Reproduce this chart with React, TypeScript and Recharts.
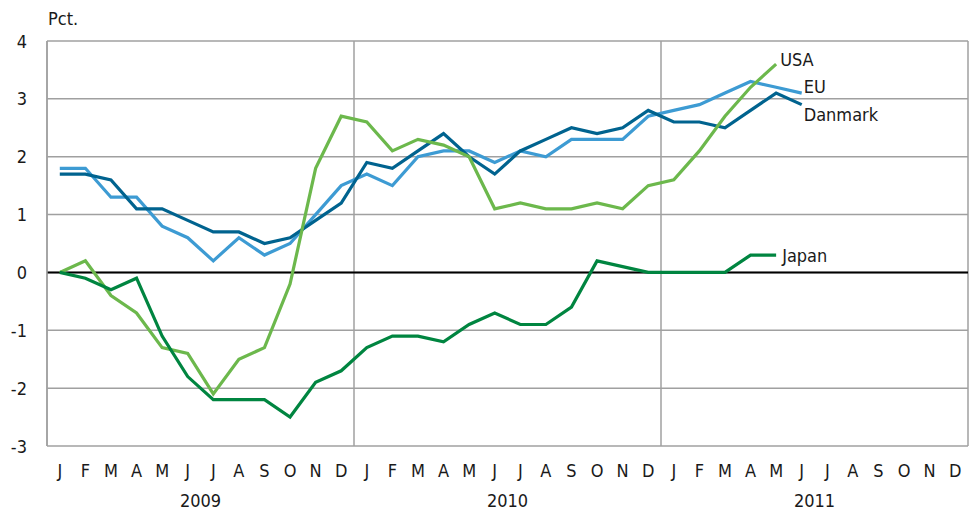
import React from 'react';
import { LineChart, Line, XAxis, YAxis, CartesianGrid, ReferenceLine } from 'recharts';

const monthLetters = ['J', 'F', 'M', 'A', 'M', 'J', 'J', 'A', 'S', 'O', 'N', 'D'];
const years = ['2009', '2010', '2011'];
const yTicks = [-3, -2, -1, 0, 1, 2, 3, 4];

const danmark = [
  1.7, 1.7, 1.6, 1.1, 1.1, 0.9, 0.7, 0.7, 0.5, 0.6, 0.9, 1.2,
  1.9, 1.8, 2.1, 2.4, 2.0, 1.7, 2.1, 2.3, 2.5, 2.4, 2.5, 2.8,
  2.6, 2.6, 2.5, 2.8, 3.1, 2.9,
];
const eu = [
  1.8, 1.8, 1.3, 1.3, 0.8, 0.6, 0.2, 0.6, 0.3, 0.5, 1.0, 1.5,
  1.7, 1.5, 2.0, 2.1, 2.1, 1.9, 2.1, 2.0, 2.3, 2.3, 2.3, 2.7,
  2.8, 2.9, 3.1, 3.3, 3.2, 3.1,
];
const usa = [
  0, 0.2, -0.4, -0.7, -1.3, -1.4, -2.1, -1.5, -1.3, -0.2, 1.8, 2.7,
  2.6, 2.1, 2.3, 2.2, 2.0, 1.1, 1.2, 1.1, 1.1, 1.2, 1.1, 1.5,
  1.6, 2.1, 2.7, 3.2, 3.6,
];
const japan = [
  0, -0.1, -0.3, -0.1, -1.1, -1.8, -2.2, -2.2, -2.2, -2.5, -1.9, -1.7,
  -1.3, -1.1, -1.1, -1.2, -0.9, -0.7, -0.9, -0.9, -0.6, 0.2, 0.1, 0,
  0, 0, 0, 0.3, 0.3,
];

const data = years.flatMap((y, yi) =>
  monthLetters.map((m, mi) => {
    const i = yi * 12 + mi;
    return {
      key: `${y}-${mi + 1}`,
      month: m,
      danmark: i < danmark.length ? danmark[i] : null,
      eu: i < eu.length ? eu[i] : null,
      usa: i < usa.length ? usa[i] : null,
      japan: i < japan.length ? japan[i] : null,
    };
  })
);

const FONT = '"DejaVu Sans Condensed", "Liberation Sans Narrow", sans-serif';
const TXT = '#1a1a1a';
const GRID = '#a0a0a0';
const FS = 18;

const MonthTick = (props: any) => {
  const { x, y, index, payload } = props;
  const half = payload && payload.offset ? payload.offset : 0;
  return (
    <g>
      <text x={x} y={y + 24} textAnchor="middle" dominantBaseline="central" fontFamily={FONT} fontSize={FS} fill={TXT}>
        {monthLetters[index % 12]}
      </text>
      {index % 12 === 5 ? (
        <text x={x + half} y={y + 54} textAnchor="middle" dominantBaseline="central" fontFamily={FONT} fontSize={FS} fill={TXT}>
          {years[Math.floor(index / 12)]}
        </text>
      ) : null}
    </g>
  );
};

const YTick = (props: any) => {
  const { x, y, payload } = props;
  return (
    <text x={x} y={y} textAnchor="end" dominantBaseline="central" fontFamily={FONT} fontSize={FS} fill={TXT}>
      {payload.value}
    </text>
  );
};

const endLabel = (name: string, lastIdx: number, dx: number, dy: number) => (props: any) => {
  const { x, y, index } = props;
  if (index !== lastIdx) return null;
  return (
    <text x={x + dx} y={y + dy} textAnchor="start" dominantBaseline="central" fontFamily={FONT} fontSize={FS} fill={TXT}>
      {name}
    </text>
  );
};

const yearBoundaries = ({ offset }: any) => {
  const n = years.length;
  const pts: number[] = [];
  for (let k = 0; k <= n; k++) pts.push(offset.left + (offset.width * k) / n);
  return pts;
};

export default function App() {
  return (
    <div style={{ position: 'absolute', left: 0, top: 0, width: 973, height: 513, background: '#fff' }}>
      <div
        style={{
          position: 'absolute',
          left: 48,
          top: 10,
          fontFamily: FONT,
          fontSize: FS,
          lineHeight: '18px',
          color: TXT,
        }}
      >
        Pct.
      </div>
      <LineChart width={973} height={513} data={data} margin={{ top: 41, right: 5, bottom: 0, left: 0 }}>
        <CartesianGrid
          stroke={GRID}
          strokeWidth={1.5}
          verticalCoordinatesGenerator={yearBoundaries}
        />
        <XAxis
          dataKey="key"
          scale="band"
          height={67}
          axisLine={false}
          tickLine={false}
          tickSize={0}
          tickMargin={0}
          interval={0}
          tick={<MonthTick />}
        />
        <YAxis
          domain={[-3, 4]}
          ticks={yTicks}
          width={47}
          axisLine={{ stroke: GRID, strokeWidth: 1.5 }}
          tickLine={false}
          tickSize={0}
          tickMargin={20}
          interval={0}
          tick={<YTick />}
        />
        <ReferenceLine y={0} stroke="#000" strokeWidth={2} />
        <Line type="linear" dataKey="eu" stroke="#3d9bd3" strokeWidth={3.2} dot={false} isAnimationActive={false}
          label={endLabel('EU', eu.length - 1, 2, -7)} />
        <Line type="linear" dataKey="danmark" stroke="#00638f" strokeWidth={3.2} dot={false} isAnimationActive={false}
          label={endLabel('Danmark', danmark.length - 1, 2, 10)} />
        <Line type="linear" dataKey="usa" stroke="#6cb84c" strokeWidth={3.2} dot={false} isAnimationActive={false}
          label={endLabel('USA', usa.length - 1, 4, -5)} />
        <Line type="linear" dataKey="japan" stroke="#008540" strokeWidth={3.2} dot={false} isAnimationActive={false}
          label={endLabel('Japan', japan.length - 1, 6, 0)} />
      </LineChart>
    </div>
  );
}
